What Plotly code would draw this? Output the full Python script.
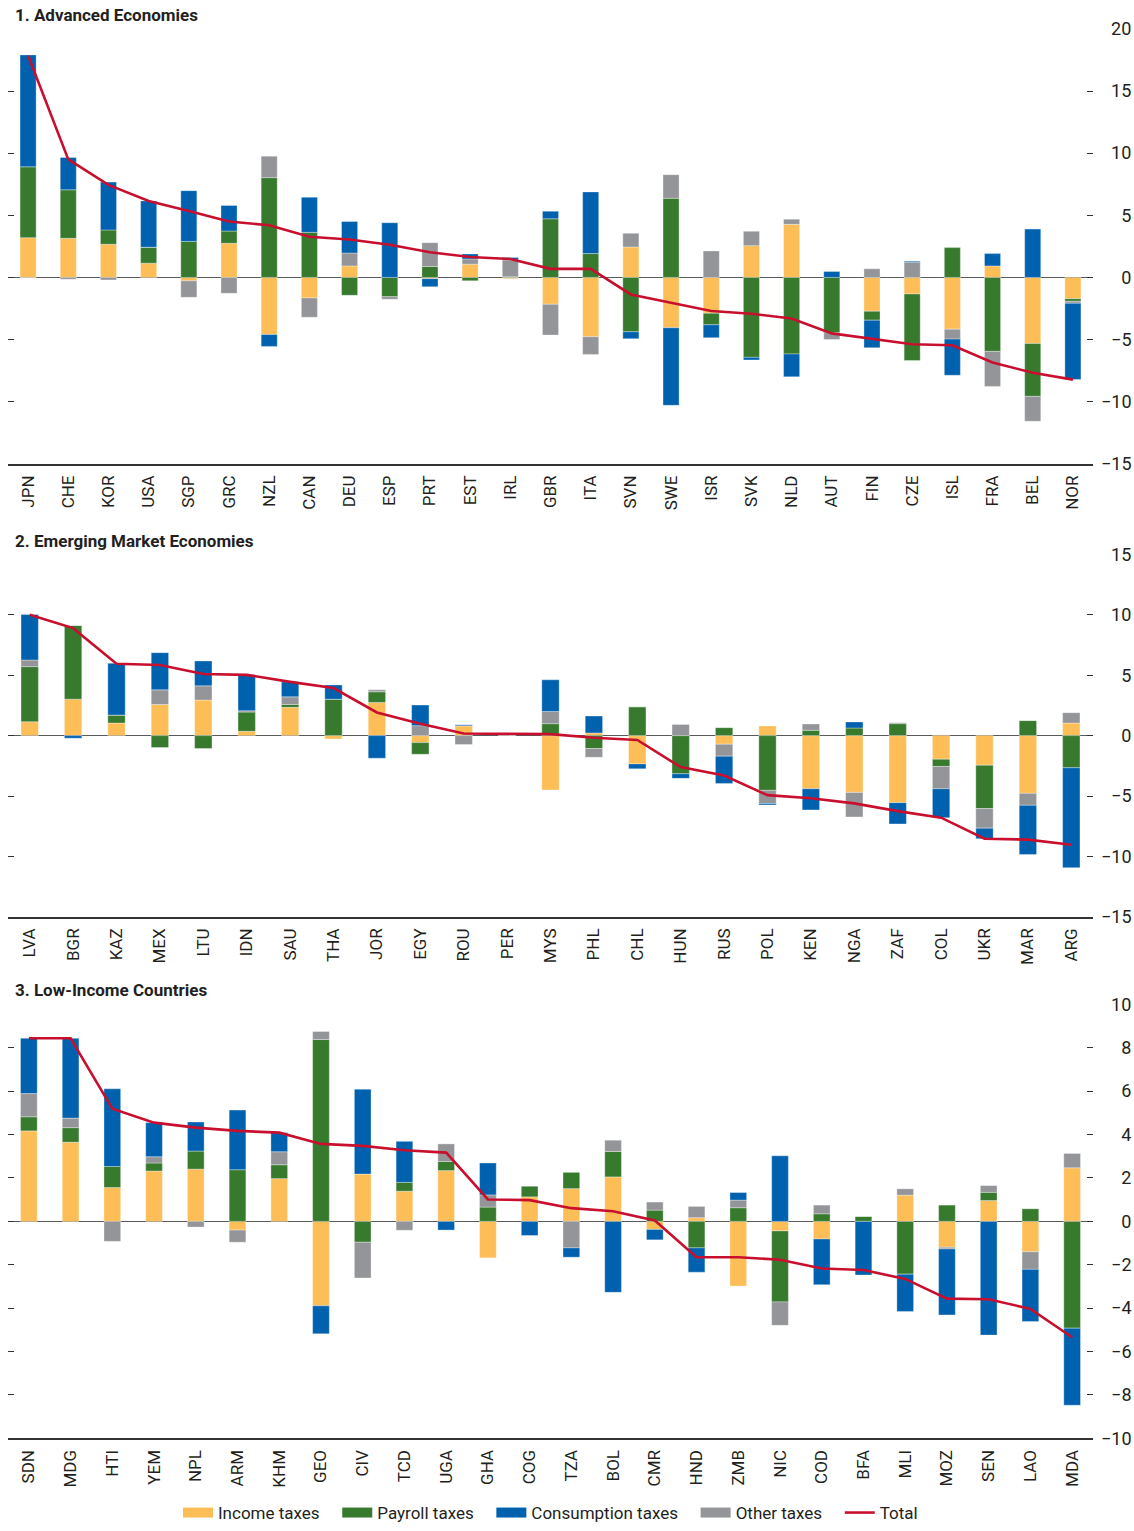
import plotly.graph_objects as go

# ---------------- data ----------------
countries_ae = ["JPN", "CHE", "KOR", "USA", "SGP", "GRC", "NZL", "CAN", "DEU", "ESP", "PRT", "EST", "IRL", "GBR",
                "ITA", "SVN", "SWE", "ISR", "SVK", "NLD", "AUT", "FIN", "CZE", "ISL", "FRA", "BEL", "NOR"]
income_ae = [3.2, 3.15, 2.67, 1.15, -0.27, 2.75, -4.59, -1.65, 0.93, 0.0, -0.1, 1.07, -0.1, -2.16,
             -4.77, 2.45, -4.05, -2.88, 2.56, 4.27, 0.0, -2.72, -1.33, -4.16, 0.93, -5.31, -1.71]
payroll_ae = [5.7, 3.9, 1.15, 1.28, 2.9, 0.98, 8.03, 3.63, -1.44, -1.55, 0.88, -0.27, 0.05, 4.72,
              1.92, -4.37, 6.37, -0.93, -6.43, -6.16, -4.45, -0.72, -5.36, 2.4, -5.95, -4.26, -0.21]
consumption_ae = [9.0, 2.6, 3.85, 3.73, 4.08, 2.06, -0.96, 2.82, 2.53, 4.4, -0.65, 0.4, 0.19, 0.61,
                  4.96, -0.56, -6.24, -1.04, -0.21, -1.84, 0.48, -2.21, 0.08, -2.91, 0.99, 3.89, -6.13]
other_ae = [-0.05, -0.15, -0.2, 0.0, -1.33, -1.28, 1.73, -1.55, 1.04, -0.21, 1.92, 0.42, 1.36, -2.48,
            -1.42, 1.1, 1.9, 2.13, 1.15, 0.42, -0.54, 0.69, 1.23, -0.8, -2.82, -2.0, -0.16]
total_ae = [17.85, 9.5, 7.45, 6.15, 5.35, 4.5, 4.2, 3.27, 3.05, 2.63, 2.03, 1.65, 1.48, 0.69,
            0.69, -1.37, -2.03, -2.7, -2.92, -3.3, -4.5, -4.96, -5.37, -5.46, -6.84, -7.67, -8.22]

countries_em = ["LVA", "BGR", "KAZ", "MEX", "LTU", "IDN", "SAU", "THA", "JOR", "EGY", "ROU", "PER", "MYS",
                "PHL", "CHL", "HUN", "RUS", "POL", "KEN", "NGA", "ZAF", "COL", "UKR", "MAR", "ARG"]
income_em = [1.15, 3.02, 1.04, 2.58, 2.94, 0.36, 2.34, -0.27, 2.75, -0.58, 0.82, 0.08, -4.5,
             0.22, -2.34, 0.0, -0.71, 0.8, -4.4, -4.7, -5.55, -1.95, -2.45, -4.78, 1.04]
payroll_em = [4.56, 6.1, 0.66, -0.99, -1.07, 1.59, 0.24, 3.02, 0.88, -0.96, 0.0, 0.06, 0.99,
              -1.07, 2.39, -3.16, 0.66, -4.53, 0.44, 0.63, 0.99, -0.6, -3.59, 1.24, -2.66]
consumption_em = [3.77, -0.22, 4.29, 3.08, 2.06, 2.97, 1.24, 1.18, -1.87, 1.71, 0.09, -0.02, 2.62,
                  1.4, -0.41, -0.38, -2.26, -0.11, -1.75, 0.5, -1.76, -2.39, -0.88, -4.07, -8.27]
other_em = [0.55, 0.0, 0.0, 1.21, 1.18, 0.11, 0.63, 0.0, 0.16, 0.82, -0.74, 0.0, 1.01,
            -0.72, 0.0, 0.93, -0.99, -1.1, 0.52, -2.03, 0.08, -1.85, -1.62, -0.99, 0.86]
total_em = [10.0, 8.9, 5.95, 5.85, 5.1, 5.03, 4.45, 3.94, 1.92, 0.98, 0.18, 0.12, 0.12,
            -0.17, -0.36, -2.61, -3.3, -4.93, -5.18, -5.61, -6.25, -6.79, -8.54, -8.61, -9.04]

countries_lic = ["SDN", "MDG", "HTI", "YEM", "NPL", "ARM", "KHM", "GEO", "CIV", "TCD", "UGA", "GHA", "COG",
                 "TZA", "BOL", "CMR", "HND", "ZMB", "NIC", "COD", "BFA", "MLI", "MOZ", "SEN", "LAO", "MDA"]
income_lic = [4.17, 3.65, 1.56, 2.32, 2.41, -0.4, 1.97, -3.89, 2.18, 1.39, 2.34, -1.68, 1.13,
              1.51, 2.05, -0.37, 0.17, -2.98, -0.44, -0.81, 0.0, 1.21, -1.19, 0.96, -1.4, 2.47]
payroll_lic = [0.65, 0.67, 0.97, 0.37, 0.83, 2.38, 0.64, 8.38, -0.96, 0.41, 0.42, 0.66, 0.5,
               0.75, 1.17, 0.52, -1.22, 0.63, -3.27, 0.35, 0.23, -2.43, 0.75, 0.38, 0.58, -4.92]
consumption_lic = [2.55, 3.68, 3.58, 1.57, 1.34, 2.75, 0.88, -1.29, 3.91, 1.89, -0.4, 1.47, -0.65,
                   -0.43, -3.27, -0.48, -1.12, 0.35, 3.02, -2.11, -2.47, -1.72, -3.04, -5.24, -2.4, -3.55]
other_lic = [1.07, 0.44, -0.92, 0.29, -0.26, -0.56, 0.6, 0.37, -1.65, -0.41, 0.81, 0.56, 0.0,
             -1.22, 0.52, 0.37, 0.52, 0.35, -1.08, 0.4, 0.0, 0.29, -0.08, 0.31, -0.81, 0.66]
total_lic = [8.44, 8.44, 5.19, 4.55, 4.32, 4.17, 4.09, 3.57, 3.48, 3.28, 3.17, 1.01, 0.98,
             0.61, 0.47, 0.04, -1.65, -1.65, -1.77, -2.17, -2.24, -2.65, -3.56, -3.59, -4.03, -5.34]

ytick_vals_ae = [-15, -10, -5, 0, 5, 10, 15, 20]
ytick_vals_em = [-15, -10, -5, 0, 5, 10, 15]
ytick_vals_lic = [-10, -8, -6, -4, -2, 0, 2, 4, 6, 8, 10]

panel_titles = ["1. Advanced Economies", "2. Emerging Market Economies", "3. Low-Income Countries"]
series_names = ["Income taxes", "Payroll taxes", "Consumption taxes", "Other taxes", "Total"]

# ---------------- styling ----------------
C_INCOME = "#FDBD57"
C_PAYROLL = "#377A2E"
C_CONS = "#0061AF"
C_OTHER = "#939598"
C_TOTAL = "#C8102E"
FONT = "Roboto, Liberation Sans, sans-serif"
TXT = "#231F20"

W, H = 1134, 1531
ML, MR = 8, 41


def yfrac(px):
    return (H - px) / H


def ydom(top_px, bot_px):
    return [yfrac(bot_px), yfrac(top_px)]


def tick_text(vals):
    # right-align labels by padding with figure spaces
    out = []
    for v in vals:
        s = str(abs(v))
        s = ("\u2212" + s) if v < 0 else s
        out.append("\u2007" * (3 - len(s)) + s)
    return out


panels = [
    dict(c=countries_ae, inc=income_ae, pay=payroll_ae, con=consumption_ae, oth=other_ae, tot=total_ae,
         rng=[-15, 20], tv=ytick_vals_ae, dom=ydom(29, 466), title_px=15),
    dict(c=countries_em, inc=income_em, pay=payroll_em, con=consumption_em, oth=other_em, tot=total_em,
         rng=[-15, 15], tv=ytick_vals_em, dom=ydom(557, 921), title_px=543),
    dict(c=countries_lic, inc=income_lic, pay=payroll_lic, con=consumption_lic, oth=other_lic, tot=total_lic,
         rng=[-10, 10], tv=ytick_vals_lic, dom=ydom(1009, 1445), title_px=995),
]

fig = go.Figure()
edge = dict(color="rgba(255,255,255,0.55)", width=0.6)

for i, p in enumerate(panels):
    sfx = "" if i == 0 else str(i + 1)
    xa, ya = "x" + sfx, "y" + sfx
    # stacking order: income, payroll, other, consumption
    for vals, col in ((p["inc"], C_INCOME), (p["pay"], C_PAYROLL), (p["oth"], C_OTHER), (p["con"], C_CONS)):
        fig.add_trace(go.Bar(x=p["c"], y=vals, marker=dict(color=col, line=edge),
                             xaxis=xa, yaxis=ya, showlegend=False, hoverinfo="skip"))
    fig.add_trace(go.Scatter(x=p["c"], y=p["tot"], mode="lines", line=dict(color=C_TOTAL, width=2.6),
                             xaxis=xa, yaxis=ya, showlegend=False, hoverinfo="skip"))

    n = len(p["c"])
    fig.layout["xaxis" + sfx] = dict(
        domain=[0, 1], anchor=ya, type="category", range=[-0.5, n - 0.5],
        showline=True, linecolor="#333333", linewidth=1.6, ticks="", tickangle=-90,
        tickfont=dict(family=FONT, size=17, color=TXT), showgrid=False, zeroline=False,
        ticklabelstandoff=3, automargin=False, fixedrange=True,
    )
    fig.layout["yaxis" + sfx] = dict(
        domain=p["dom"], anchor=xa, side="right", range=p["rng"],
        tickmode="array", tickvals=p["tv"], ticktext=tick_text(p["tv"]),
        showline=False, ticks="inside", ticklen=6, tickwidth=1.2, tickcolor="#333333", mirror="ticks",
        showgrid=False, zeroline=True, zerolinecolor="#5a5a5a", zerolinewidth=1.2,
        tickfont=dict(family=FONT, size=18, color=TXT), ticklabelstandoff=7,
        automargin=False, fixedrange=True,
    )
    fig.add_annotation(text="<b>" + panel_titles[i] + "</b>", xref="paper", yref="paper",
                       x=(13 - ML) / (W - ML - MR), y=yfrac(p["title_px"]),
                       xanchor="left", yanchor="middle", showarrow=False,
                       font=dict(family=FONT, size=17, color=TXT))

# legend-only entries (wide rectangle swatches like the original)
pad = "\u00a0" * 3
legend_colors = [C_INCOME, C_PAYROLL, C_CONS, C_OTHER]
for name, col in zip(series_names[:4], legend_colors):
    fig.add_trace(go.Scatter(x=[None], y=[None], mode="lines", name=name + pad,
                             line=dict(color=col, width=13), showlegend=True))
fig.add_trace(go.Scatter(x=[None], y=[None], mode="lines", name=series_names[4],
                         line=dict(color=C_TOTAL, width=2.6), showlegend=True))

fig.update_layout(
    template="none",
    width=W, height=H,
    margin=dict(l=ML, r=MR, t=0, b=0),
    barmode="relative", bargap=0.6,
    paper_bgcolor="white", plot_bgcolor="white",
    font=dict(family=FONT, color=TXT),
    legend=dict(orientation="h", x=0.5, xanchor="center", y=yfrac(1520), yanchor="middle",
                font=dict(family=FONT, size=17, color=TXT), traceorder="normal",
                itemwidth=30, bgcolor="rgba(0,0,0,0)", tracegroupgap=0),
    showlegend=True,
)

fig.write_html("out.html", config={"displayModeBar": False},
               post_script="document.body.style.margin='0px';")
